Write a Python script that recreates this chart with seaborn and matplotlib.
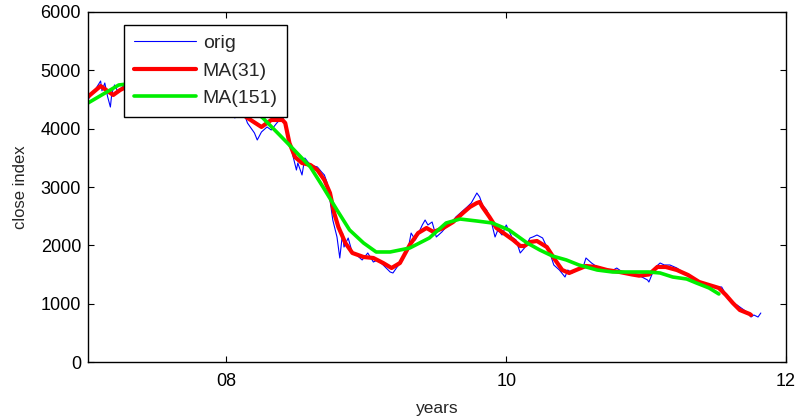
import matplotlib
matplotlib.use("Agg")
import matplotlib.pyplot as plt
import seaborn as sns
import pandas as pd

# ---- data ----
orig_years = [7.01, 7.04, 7.07, 7.10, 7.11, 7.13, 7.15, 7.17, 7.18, 7.20, 7.22, 7.25, 7.27,
              7.38, 7.52, 7.67, 7.77, 7.88, 7.99, 8.04, 8.06, 8.08, 8.12,
              8.15, 8.20, 8.22, 8.25, 8.29, 8.32, 8.36, 8.40, 8.43, 8.47, 8.50, 8.51, 8.54,
              8.56, 8.60, 8.65, 8.68, 8.70, 8.72, 8.74, 8.76, 8.79, 8.81, 8.83, 8.84, 8.87,
              8.90, 8.93, 8.97, 9.01, 9.05, 9.08, 9.12, 9.17, 9.19, 9.22, 9.26, 9.30, 9.32,
              9.35, 9.40, 9.42, 9.44, 9.47, 9.50, 9.54, 9.57, 9.61, 9.64, 9.68, 9.72, 9.75,
              9.79, 9.81, 9.83, 9.86, 9.89, 9.92, 9.94, 9.97, 10.00, 10.04, 10.07, 10.10,
              10.13, 10.17, 10.19, 10.22, 10.26, 10.29, 10.31, 10.34, 10.38, 10.42, 10.44,
              10.47, 10.51, 10.55, 10.57, 10.61, 10.65, 10.69, 10.74, 10.79, 10.83, 10.90,
              10.97, 11.01, 11.02, 11.06, 11.10, 11.13, 11.17, 11.22, 11.26, 11.31, 11.36,
              11.40, 11.44, 11.49, 11.54, 11.56, 11.58, 11.61, 11.65, 11.68, 11.72, 11.75,
              11.77, 11.80, 11.82]
orig_close = [4500, 4600, 4700, 4817, 4650, 4783, 4550, 4371, 4600, 4750, 4650, 4700, 4750,
              4950, 5200, 5450, 5300, 4900, 4600, 4450, 4183, 4450, 4300,
              4097, 3926, 3806, 3943, 4029, 3977, 4097, 4200, 4029, 3583, 3291, 3411, 3206,
              3497, 3377, 3343, 3257, 3206, 3069, 2777, 2434, 2143, 1783, 2211, 1971, 2126,
              1869, 1834, 1749, 1869, 1714, 1749, 1663, 1543, 1526, 1629, 1749, 1954, 2211,
              2091, 2349, 2434, 2349, 2400, 2143, 2229, 2314, 2383, 2486, 2571, 2657, 2726,
              2897, 2829, 2691, 2606, 2434, 2143, 2263, 2177, 2349, 2143, 2091, 1869,
              1954, 2126, 2143, 2177, 2126, 1971, 1886, 1663, 1577, 1457, 1577,
              1526, 1577, 1629, 1783, 1697, 1629, 1577, 1543, 1611, 1543, 1526,
              1457, 1406, 1371, 1611, 1697, 1663, 1663, 1611, 1543, 1457, 1406,
              1320, 1320, 1286, 1286, 1200, 1097, 1011, 977, 926, 857, 771,
              806, 771, 840]

ma31_years = [7.01, 7.10, 7.19, 7.24, 7.27, 7.45, 7.67, 7.88, 8.06, 8.14, 8.25, 8.32, 8.40,
              8.42, 8.45, 8.49, 8.54, 8.60, 8.65, 8.70, 8.74, 8.77, 8.80, 8.85, 8.90, 8.98,
              9.05, 9.12, 9.18, 9.24, 9.31, 9.37, 9.43, 9.48, 9.55, 9.62, 9.69, 9.74, 9.79,
              9.81, 9.83, 9.88, 9.93, 9.97, 10.05, 10.10, 10.13, 10.17, 10.22, 10.29, 10.35,
              10.40, 10.45, 10.50, 10.57, 10.64, 10.72, 10.81, 10.90, 10.95, 11.02, 11.08,
              11.14, 11.22, 11.30, 11.38, 11.45, 11.52, 11.57, 11.62, 11.67, 11.74, 11.75]
ma31_close = [4548, 4731, 4577, 4663, 4700, 5000, 5300, 4900, 4400, 4200, 4029, 4149, 4149,
              4097, 3754, 3514, 3411, 3377, 3291, 3120, 2897, 2554, 2314, 2040, 1869, 1800,
              1783, 1697, 1611, 1697, 2006, 2211, 2297, 2229, 2297, 2400, 2554, 2657, 2726,
              2743, 2657, 2486, 2297, 2229, 2091, 1989, 1989, 2057, 2074, 1971, 1749,
              1577, 1526, 1577, 1646, 1629, 1577, 1543, 1500, 1480, 1500, 1629,
              1629, 1577, 1491, 1371, 1320, 1269, 1149, 1011, 891, 823, 806]

ma151_years = [7.01, 7.23, 7.27, 7.45, 7.67, 7.88, 8.10, 8.26, 8.38, 8.47, 8.60, 8.69, 8.79,
               8.88, 8.98, 9.07, 9.17, 9.31, 9.45, 9.57, 9.67, 9.79, 9.90, 10.02, 10.15,
               10.24, 10.33, 10.43, 10.52, 10.65, 10.76, 10.88, 11.02, 11.10, 11.19, 11.29,
               11.36, 11.45, 11.52]
ma151_close = [4440, 4749, 4760, 4900, 4950, 4800, 4500, 4183, 3891, 3669, 3343, 3000, 2606,
               2263, 2040, 1886, 1886, 1954, 2126, 2383, 2451, 2417, 2383, 2263, 2040,
               1920, 1817, 1749, 1663, 1577, 1543, 1543, 1543, 1526, 1457, 1423,
               1354, 1269, 1166]

x_ticks = [8, 10, 12]
x_tick_labels = ["08", "10", "12"]
y_ticks = [0, 1000, 2000, 3000, 4000, 5000, 6000]

# ---- plot ----
sns.set_style("white")
plt.rcParams['font.family'] = ['Liberation Sans', 'DejaVu Sans']

fig = plt.figure(figsize=(7.98, 4.19), dpi=100)
ax = fig.add_axes([88 / 798, 57 / 419, 698 / 798, 350 / 419])

df_orig = pd.DataFrame({"years": orig_years, "close": orig_close})
df_31 = pd.DataFrame({"years": ma31_years, "close": ma31_close})
df_151 = pd.DataFrame({"years": ma151_years, "close": ma151_close})

sns.lineplot(data=df_orig, x="years", y="close", ax=ax, color="#0000ff",
             linewidth=0.8, label="orig", sort=False)
sns.lineplot(data=df_31, x="years", y="close", ax=ax, color="#ff0000",
             linewidth=3.0, label="MA(31)", sort=False)
sns.lineplot(data=df_151, x="years", y="close", ax=ax, color="#00ee00",
             linewidth=2.6, label="MA(151)", sort=False)

ax.set_xlim(7.01, 12)
ax.set_ylim(0, 6000)
ax.set_xticks(x_ticks)
ax.set_xticklabels(x_tick_labels)
ax.set_yticks(y_ticks)
ax.tick_params(axis="both", direction="in", length=4, width=0.8, labelsize=13,
               top=True, right=True, bottom=True, left=True, colors="black")
ax.tick_params(axis="y", pad=5)
ax.tick_params(axis="x", pad=8)
for s in ax.spines.values():
    s.set_color("black")
    s.set_linewidth(1.0)

ax.set_xlabel("years", fontsize=12.5, labelpad=8)
ax.set_ylabel("close index", fontsize=12, labelpad=9)

leg = ax.legend(loc="upper left", bbox_to_anchor=(0.0516, 0.963), fontsize=14,
                frameon=True, fancybox=False, framealpha=1, edgecolor="black",
                handlelength=3.2, borderpad=0.5, labelspacing=0.5, handletextpad=0.35,
                borderaxespad=0)
leg.get_frame().set_linewidth(1.0)

fig.savefig("out.png", dpi=100)
